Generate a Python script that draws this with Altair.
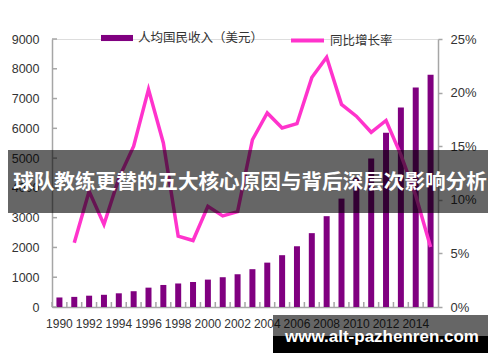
import altair as alt
import pandas as pd

years = list(range(1990, 2016))
income = [320, 340, 380, 410, 460, 530, 650, 740, 790, 840, 920, 1000, 1100,
          1270, 1490, 1740, 2040, 2480, 3050, 3640, 4340, 4990, 5850, 6700, 7370, 7800]
growth = [None, 6.0, 10.8, 7.7, 12.0, 15.0, 20.3, 15.3, 6.6, 6.2, 9.4, 8.5, 8.9,
          15.6, 18.1, 16.7, 17.1, 21.4, 23.3, 18.9, 17.8, 16.3, 17.4, 14.2, 10.4, 5.6]
left_ticks = [0, 1000, 2000, 3000, 4000, 5000, 6000, 7000, 8000, 9000]
right_ticks = [0, 5, 10, 15, 20, 25]
x_label_years = [1990, 1992, 1994, 1996, 1998, 2000, 2002, 2004, 2006, 2008, 2010, 2012, 2014]
bar_name = "人均国民收入（美元）"
line_name = "同比增长率"
banner_text = "球队教练更替的五大核心原因与背后深层次影响分析"
watermark_text = "www.alt-pazhenren.com"

W, H = 386, 268
PURPLE = "#800080"
PINK = "#ff33cc"
AXIS_GRAY = "#a6a6a6"
LABEL = "#333333"
AXFONT = "Liberation Sans"
CJK = "Noto Sans CJK SC"

df = pd.DataFrame({"year": years, "income": income, "growth": growth})
df["bar_series"] = bar_name
df["line_series"] = line_name

xscale = alt.Scale(paddingInner=0, paddingOuter=0)
yscale_l = alt.Scale(domain=[0, 9000], nice=False)
yscale_r = alt.Scale(domain=[0, 25], nice=False)

x_axis = alt.Axis(values=x_label_years, labelAngle=0, ticks=False,
                  labelFont=AXFONT, labelFontSize=12, labelColor=LABEL,
                  labelPadding=11, domainColor=AXIS_GRAY, domainWidth=1.5,
                  labelOverlap=False)
y_axis_l = alt.Axis(values=left_ticks, ticks=False, grid=False, format="d",
                    labelOverlap=False, labelFlush=False,
                    labelFont=AXFONT, labelFontSize=12.5, labelColor=LABEL,
                    labelPadding=13, domainColor=AXIS_GRAY, domainWidth=1.5)

bars = alt.Chart(df).mark_bar(size=6).encode(
    x=alt.X("year:O", scale=xscale, title=None, axis=x_axis),
    y=alt.Y("income:Q", scale=yscale_l, title=None, axis=y_axis_l),
    color=alt.Color("bar_series:N",
                    scale=alt.Scale(domain=[bar_name], range=[PURPLE]),
                    legend=alt.Legend(orient="none", legendX=49, legendY=-17,
                                      title=None, padding=0,
                                      symbolType="M-1,-0.19L1,-0.19L1,0.19L-1,0.19Z",
                                      symbolSize=1024, symbolStrokeWidth=0,
                                      labelFont=CJK, labelFontSize=12.5,
                                      labelColor=LABEL, labelOffset=5)),
)

lt = alt.Chart(pd.DataFrame({"income": left_ticks})).mark_rule(
    color=AXIS_GRAY, strokeWidth=1.5).encode(
    y=alt.Y("income:Q", scale=yscale_l, title=None, axis=y_axis_l),
    x=alt.value(0), x2=alt.value(5),
)

xt = alt.Chart(pd.DataFrame({"year": years})).mark_rule(
    color=AXIS_GRAY, strokeWidth=1.5).encode(
    x=alt.X("year:O", bandPosition=0, scale=xscale, title=None, axis=x_axis),
    y=alt.value(H), y2=alt.value(H - 5),
)

left_group = alt.layer(bars, lt, xt)

line = alt.Chart(df).transform_filter("isValid(datum.growth)").mark_line(
    strokeWidth=3.5).encode(
    x=alt.X("year:O", scale=xscale, title=None, axis=x_axis),
    y=alt.Y("growth:Q", scale=yscale_r, title=None,
            axis=alt.Axis(orient="right", values=right_ticks, grid=False,
                          labelExpr="datum.value + '%'",
                          labelOverlap=False, labelFlush=False,
                          tickSize=4, tickColor=AXIS_GRAY, tickWidth=1.5,
                          labelFont=AXFONT, labelFontSize=13, labelColor=LABEL,
                          labelPadding=8, domainColor=AXIS_GRAY, domainWidth=1.5)),
    stroke=alt.Stroke("line_series:N",
                      scale=alt.Scale(domain=[line_name], range=[PINK]),
                      legend=alt.Legend(orient="none", legendX=237, legendY=-17,
                                        title=None, padding=0,
                                        symbolType="stroke", symbolSize=1089,
                                        symbolStrokeWidth=4,
                                        labelFont=CJK, labelFontSize=12.5,
                                        labelColor=LABEL, labelOffset=4)),
)

one = pd.DataFrame({"t": [banner_text], "w": [watermark_text]})

banner = alt.Chart(one).mark_rect(fill="black", opacity=0.6).encode(
    x=alt.value(-44), x2=alt.value(440), y=alt.value(111), y2=alt.value(174))
banner_txt = alt.Chart(one).mark_text(
    font=CJK, fontSize=20.6, fontWeight="bold", color="white",
    align="center", baseline="middle").encode(
    text="t:N", x=alt.value(198), y=alt.value(144))

wm_top = alt.Chart(one).mark_rect(fill="black", opacity=0.6).encode(
    x=alt.value(221), x2=alt.value(439), y=alt.value(276), y2=alt.value(297))
wm_bot = alt.Chart(one).mark_rect(fill="black", opacity=1).encode(
    x=alt.value(221), x2=alt.value(439), y=alt.value(297), y2=alt.value(314))
wm_txt = alt.Chart(one).mark_text(
    font=AXFONT, fontSize=17, fontWeight="bold", color="white",
    align="center", baseline="middle").encode(
    text="w:N", x=alt.value(330), y=alt.value(298))

chart = alt.layer(left_group, line, banner, banner_txt, wm_top, wm_bot, wm_txt).resolve_scale(
    y="independent", color="independent"
).properties(
    width=W, height=H,
    padding={"left": 44, "top": 31, "right": 50, "bottom": 46},
    autosize=alt.AutoSizeParams(type="none"),
).configure_view(stroke=None).configure(background="white")

chart.save("out.html", embed_options={"renderer": "svg", "actions": False})
